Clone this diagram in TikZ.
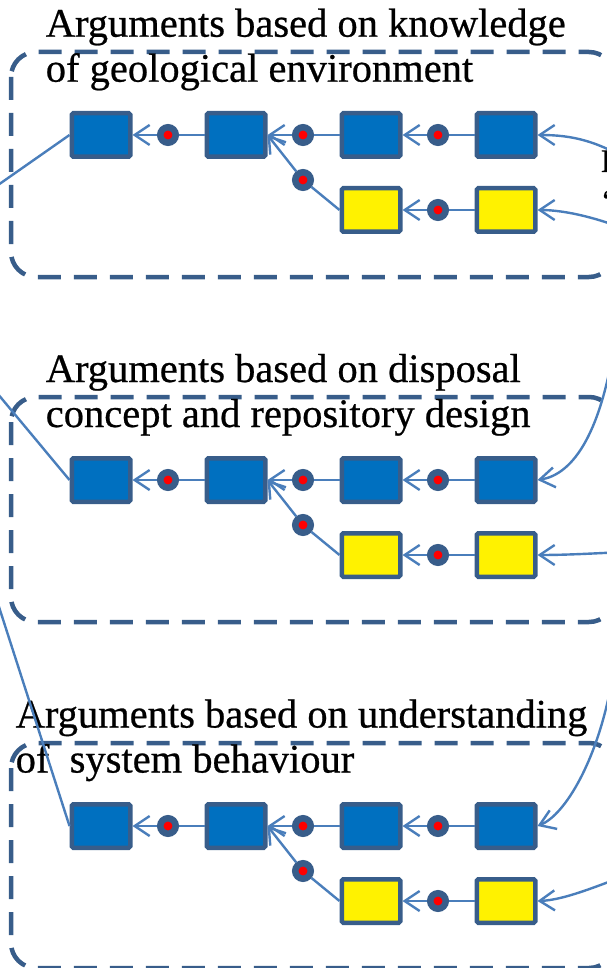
\documentclass[tikz,border=0pt]{standalone}
\usepackage{fontspec}
\setmainfont{Liberation Serif}
\newfontfamily\titlefont{Liberation Serif}[FakeBold=0.6]
\usetikzlibrary{arrows.meta}

\definecolor{boxblue}{HTML}{0070C0}
\definecolor{edgeblue}{HTML}{385D8A}
\definecolor{linkblue}{HTML}{4A7EBB}

\begin{document}
\begin{tikzpicture}[x=1pt, y=-1pt,
  bluebox/.style={draw=edgeblue, line width=4.5pt, fill=boxblue, rounded corners=1.5pt,
    minimum width=58.5pt, minimum height=43.5pt, inner sep=0pt},
  yellowbox/.style={bluebox, fill=yellow},
  dot/.style={circle, draw=edgeblue, line width=6.5pt, fill=red, minimum size=15.5pt, inner sep=0pt},
  link/.style={draw=linkblue, line width=2.4pt},
  arrowlink/.style={link, -{Straight Barb[length=15pt,width=20pt]}},
  frame/.style={draw=edgeblue, line width=4.5pt, dash pattern=on 23pt off 13pt, rounded corners=25pt},
  title/.style={font=\titlefont\fontsize{40.5}{45}\selectfont, align=left, inner sep=0pt, anchor=base west}]
  \useasboundingbox (0,0) rectangle (606,968);

  % Üç blok (her biri 345 birim aşağıda)
  \foreach \p/\dy in {1/0, 2/345, 3/691} {
    % Kesikli çerçeve
    \draw[frame] (11,52+\dy) rectangle (614,277+\dy);

    % Mavi kutular (üst sıra)
    \node[bluebox] (b1-\p) at (101,135+\dy) {};
    \node[bluebox] (b2-\p) at (236,135+\dy) {};
    \node[bluebox] (b3-\p) at (371,135+\dy) {};
    \node[bluebox] (b4-\p) at (506,135+\dy) {};

    % Sarı kutular (alt sıra)
    \node[yellowbox] (y1-\p) at (371,210+\dy) {};
    \node[yellowbox] (y2-\p) at (506,210+\dy) {};

    % Noktalar
    \node[dot] (d1-\p) at (168,135+\dy) {};
    \node[dot] (d2-\p) at (303,135+\dy) {};
    \node[dot] (d3-\p) at (438,135+\dy) {};
    \node[dot] (d4-\p) at (303,180+\dy) {};
    \node[dot] (d5-\p) at (438,210+\dy) {};

    % Bağlantılar
    \draw[link] (b2-\p) -- (d1-\p);
    \draw[arrowlink] (d1-\p) -- (b1-\p.east);
    \draw[link] (b3-\p) -- (d2-\p);
    \draw[arrowlink] (d2-\p) -- (b2-\p.east);
    \draw[link] (b4-\p) -- (d3-\p);
    \draw[arrowlink] (d3-\p) -- (b3-\p.east);
    \draw[link] (y1-\p.west) -- (d4-\p);
    \draw[arrowlink] (d4-\p) -- (b2-\p.east);
    \draw[link] (y2-\p) -- (d5-\p);
    \draw[arrowlink] (d5-\p) -- (y1-\p.east);
  }

  % Başlıklar
  \node[title] (t1) at (45.6,81.7) {Arguments based on knowledge\\of geological environment};
  \node[title] (t2) at (45.6,427) {Arguments based on disposal\\concept and repository design};
  \node[title] (t3) at (15.5,772.5) {Arguments based on understanding\\of\ \ system behaviour};

  % Sağdaki kesik metin
  \node[anchor=base west, inner sep=0pt, align=left, font=\titlefont\fontsize{33}{40}\selectfont]
    (ev) at (600.5,212) {I\\‘};

  % Sol çizgiler (ortak uç)
  \coordinate (claim) at (-112,262);
  \draw[link] (claim) -- (b1-1.west);
  \draw[link] (claim) -- (b1-2.west);
  \draw[link] (claim) -- (b1-3.west);

  % Sağ eğriler
  \coordinate (r1) at (640,168);
  \coordinate (r2) at (640,235);
  \coordinate (r3) at (615,340);
  \coordinate (r4) at (625,552);
  \coordinate (r5) at (612,680);
  \coordinate (r6) at (640,870);
  \draw[arrowlink] (r1) .. controls (600,140) and (570,135) .. (b4-1.east);
  \draw[arrowlink] (r2) .. controls (600,218) and (565,210) .. (y2-1.east);
  \draw[arrowlink] (r3) .. controls (600,440) and (570,475) .. (b4-2.east);
  \draw[arrowlink] (r4) .. controls (600,553) and (570,555) .. (y2-2.east);
  \draw[arrowlink] (r5) .. controls (598,760) and (565,815) .. (b4-3.east);
  \draw[arrowlink] (r6) .. controls (600,885) and (565,900) .. (y2-3.east);
\end{tikzpicture}
\end{document}
